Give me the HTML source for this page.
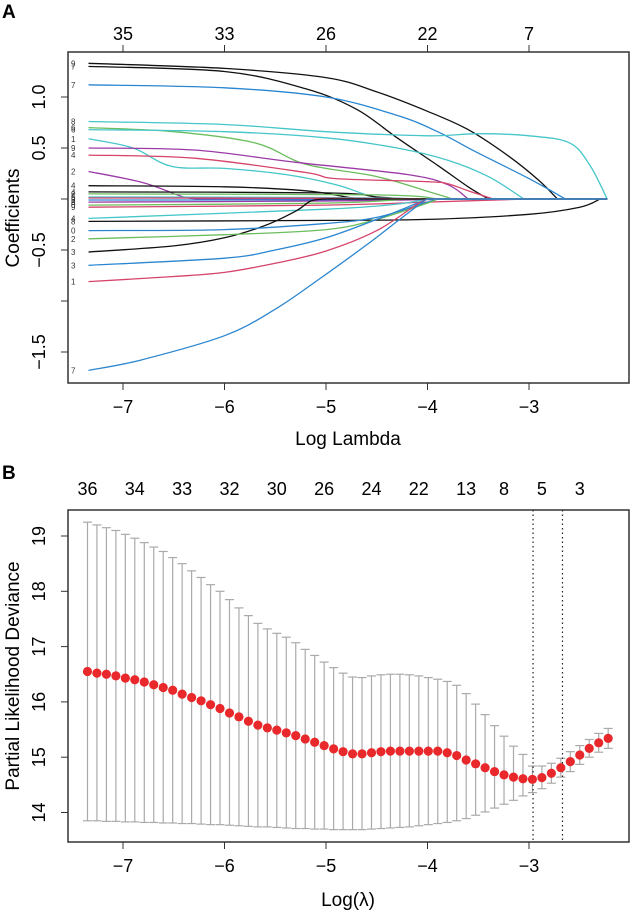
<!DOCTYPE html>
<html><head><meta charset="utf-8"><style>
html,body{margin:0;padding:0;background:#fff;}
svg{display:block;font-family:"Liberation Sans",sans-serif;}
</style></head><body>
<svg id="fig" width="630" height="912" viewBox="0 0 630 912" xmlns="http://www.w3.org/2000/svg">
<text x="2" y="18" font-size="19" font-weight="bold">A</text>
<text x="2" y="479" font-size="19" font-weight="bold">B</text>
<g id="pa"></g>
<g id="pb"></g>
</svg>
<script>
// ---------- Panel A data ----------
const aXTicks = [-7, -6, -5, -4, -3];
const aTopLabels = ["35", "33", "26", "22", "7"];
const aYTicks = [-1.5, -1.0, -0.5, 0, 0.5, 1.0];
const aYTickLabels = ["\u22121.5", "", "\u22120.5", "", "0.5", "1.0"];
const aLamMax = -2.23;
const pathColors = ["#111","#111","#2a86d0","#45c6c9","#6bbd5d","#45c6c9","#45c6c9","#9b3aa6","#d6436b","#9b3aa6","#111","#111","#6bbd5d","#45c6c9","#2a86d0","#d6436b","#9b3aa6","#6bbd5d","#d6436b","#45c6c9","#111","#111","#2a86d0","#6bbd5d","#2a86d0","#d6436b","#2a86d0"];
const pathLabels = ["9","7","7","8","6","6","1","9","4","2","4","4","2","5","3","6","8","0","9","4","8","3","0","2","3","1","7"];
const pathLam = [
 [-7.34,-6,-5,-4.5,-4,-3.6,-3.2,-2.9,-2.72],
 [-7.34,-6,-5.2,-4.7,-4.3,-3.9,-3.6,-3.4],
 [-7.34,-6,-5,-4.3,-3.9,-3.5,-3.0,-2.64],
 [-7.34,-6,-5,-4,-3.5,-3.0,-2.6,-2.4,-2.23],
 [-7.34,-6.5,-5.7,-5.2,-4.5,-3.95,-3.75],
 [-7.34,-6,-5,-4.3,-3.8,-3.4,-3.05],
 [-7.34,-6.9,-6.52,-6.0,-5.4,-4.9,-4.6,-4.4],
 [-7.34,-6.3,-5.3,-4.2,-3.8,-3.6],
 [-7.34,-6.3,-5.2,-4.9,-4.0,-3.8,-3.6,-3.35],
 [-7.34,-6.8,-6.4,-6.2],
 [-7.34,-6,-5.2,-4.8,-4.65],
 [-7.34,-5,-4.5,-4.2],
 [-7.34,-4.5,-3.9],
 [-7.34,-5,-4],
 [-7.34,-5,-4],
 [-7.34,-5,-3.5],
 [-7.34,-5,-3.7],
 [-7.34,-5,-4.2],
 [-7.34,-5,-4,-3],
 [-7.34,-5,-4.3,-4],
 [-7.34,-5,-4,-3,-2.5,-2.3],
 [-7.34,-6.5,-6,-5.6,-5.3,-5.15,-5.0],
 [-7.34,-6,-5,-4.5,-4.0,-3.9],
 [-7.34,-6,-5,-4.5,-4.0,-3.9],
 [-7.34,-6,-5.5,-5,-4.5,-4.1,-4.0],
 [-7.34,-6.5,-6,-5.5,-5,-4.5,-4.1,-4.0],
 [-7.34,-6.83,-6,-5.5,-5.06,-4.6,-4.3,-4.05,-4.0]
];
const pathCoef = [
 [1.33,1.28,1.19,1.05,0.86,0.68,0.42,0.18,0],
 [1.30,1.25,1.08,0.88,0.60,0.33,0.12,0],
 [1.12,1.09,1.0,0.82,0.66,0.45,0.2,0],
 [0.76,0.73,0.66,0.62,0.64,0.62,0.55,0.33,0],
 [0.70,0.66,0.55,0.34,0.22,0.06,0],
 [0.68,0.66,0.6,0.5,0.38,0.22,0],
 [0.59,0.5,0.32,0.3,0.24,0.14,0.04,0],
 [0.50,0.48,0.36,0.24,0.14,0],
 [0.43,0.40,0.26,0.20,0.17,0.15,0.08,0],
 [0.27,0.16,0.02,0],
 [0.13,0.12,0.08,0.02,0],
 [0.07,0.06,0.02,0],
 [0.05,0.04,0],
 [0.02,0.015,0],
 [-0.01,-0.008,0],
 [0.01,0.008,0],
 [-0.03,-0.02,0],
 [-0.06,-0.04,0],
 [-0.08,-0.06,-0.03,0],
 [-0.19,-0.1,-0.05,0],
 [-0.22,-0.21,-0.2,-0.15,-0.08,0],
 [-0.52,-0.46,-0.38,-0.26,-0.12,-0.02,0],
 [-0.31,-0.30,-0.24,-0.18,-0.03,0],
 [-0.39,-0.35,-0.30,-0.20,-0.04,0],
 [-0.65,-0.58,-0.50,-0.38,-0.20,-0.04,0],
 [-0.81,-0.76,-0.72,-0.63,-0.51,-0.31,-0.05,0],
 [-1.68,-1.58,-1.34,-1.08,-0.78,-0.45,-0.22,-0.03,0]
];

// ---------- Panel B data ----------
const bXTicks = [-7, -6, -5, -4, -3];
const bYTicks = [14, 15, 16, 17, 18, 19];
const bLamStart = -7.35, bLamEnd = -2.22;
const bMean = [16.55,16.52,16.50,16.47,16.43,16.40,16.36,16.31,16.26,16.21,16.14,16.08,16.02,15.95,15.88,15.80,15.73,15.65,15.58,15.53,15.49,15.44,15.39,15.33,15.27,15.21,15.15,15.10,15.06,15.06,15.08,15.10,15.11,15.11,15.11,15.11,15.11,15.11,15.08,15.03,14.95,14.88,14.81,14.74,14.68,14.64,14.61,14.60,14.63,14.71,14.81,14.92,15.04,15.16,15.26,15.34];
const bUpper = [19.25,19.20,19.15,19.10,19.03,18.96,18.88,18.80,18.72,18.61,18.50,18.37,18.25,18.12,18.00,17.85,17.70,17.56,17.42,17.32,17.24,17.17,17.07,16.95,16.84,16.72,16.62,16.52,16.45,16.44,16.47,16.49,16.50,16.50,16.49,16.47,16.44,16.41,16.37,16.30,16.15,15.96,15.77,15.57,15.38,15.20,15.05,14.84,14.84,14.89,14.98,15.10,15.21,15.32,15.43,15.52];
const bLower = [13.85,13.85,13.84,13.84,13.83,13.83,13.82,13.82,13.81,13.81,13.80,13.80,13.79,13.78,13.78,13.77,13.76,13.75,13.74,13.74,13.73,13.72,13.71,13.71,13.70,13.70,13.69,13.69,13.69,13.69,13.70,13.71,13.72,13.73,13.74,13.76,13.78,13.80,13.82,13.85,13.89,13.95,14.01,14.08,14.15,14.22,14.30,14.36,14.43,14.53,14.64,14.74,14.87,15.00,15.09,15.16];
const bTopIdx = [0,5,10,15,20,25,30,35,40,44,48,52];
const bTopLabels = ["36","34","33","32","30","26","24","22","13","8","5","3"];
const bVLines = [-2.96, -2.67];

const NS = "http://www.w3.org/2000/svg";
function mk(parent, tag, attrs){const e=document.createElementNS(NS,tag);for(const k in attrs)e.setAttribute(k,attrs[k]);parent.appendChild(e);return e;}

const X0 = 68, X1 = 629;
function xs(l){return 529 + (l + 3) * 101.5;}
function yA(v){return 199 - v * 102;}
function yB(v){return 536 + (19 - v) * 55.3;}

function smooth(pts){
  let d = "M" + pts[0][0].toFixed(1) + "," + pts[0][1].toFixed(1);
  for(let i=0;i<pts.length-1;i++){
    const p0=pts[Math.max(i-1,0)],p1=pts[i],p2=pts[i+1],p3=pts[Math.min(i+2,pts.length-1)];
    const c1=[p1[0]+(p2[0]-p0[0])/6,p1[1]+(p2[1]-p0[1])/6];
    const c2=[p2[0]-(p3[0]-p1[0])/6,p2[1]-(p3[1]-p1[1])/6];
    d+=" C"+c1[0].toFixed(1)+","+c1[1].toFixed(1)+" "+c2[0].toFixed(1)+","+c2[1].toFixed(1)+" "+p2[0].toFixed(1)+","+p2[1].toFixed(1);
  }
  return d;
}

// ---------- Panel A ----------
const pa = document.getElementById("pa");
const aTop = 52, aBot = 383;
const clipA = mk(pa,"clipPath",{id:"clipA"}); mk(clipA,"rect",{x:X0,y:aTop,width:X1-X0,height:aBot-aTop});
const gPaths = mk(pa,"g",{"clip-path":"url(#clipA)"});


for(let i=0;i<pathLam.length;i++){
  const pts = pathLam[i].map((l,j)=>[xs(l), yA(pathCoef[i][j])]);
  let d = smooth(pts);
  const last = pathLam[i][pathLam[i].length-1];
  if(last < aLamMax) d += " L" + xs(aLamMax).toFixed(1) + "," + yA(0).toFixed(1);
  const p = mk(gPaths,"path",{d:d,fill:"none",stroke:pathColors[i],"stroke-width":1.3});
  
  
  const t = mk(pa,"text",{x:71,y:(yA(pathCoef[i][0])+3).toFixed(1),"font-size":8,fill:"#333"});
  t.textContent = pathLabels[i];
  
  
}
const boxA = mk(pa,"rect",{x:X0,y:aTop,width:X1-X0,height:aBot-aTop,fill:"none",stroke:"#333","stroke-width":1.5});


aXTicks.forEach((v,i)=>{
  const x = xs(v);
  mk(pa,"line",{x1:x,x2:x,y1:aBot,y2:aBot+7,stroke:"#333"});
  const t = mk(pa,"text",{x:x,y:aBot+30,"font-size":18,"text-anchor":"middle"});
  t.textContent = "\u2212" + Math.abs(v);
  
  
  mk(pa,"line",{x1:x,x2:x,y1:aTop,y2:aTop-7,stroke:"#333"});
  const t2 = mk(pa,"text",{x:x,y:aTop-12,"font-size":18,"text-anchor":"middle"});
  t2.textContent = aTopLabels[i];
  
  
});
aYTicks.forEach((v,i)=>{
  const y = yA(v);
  mk(pa,"line",{x1:X0,x2:X0-7,y1:y,y2:y,stroke:"#333"});
  if(aYTickLabels[i]){
    const t = mk(pa,"text",{x:0,y:0,"font-size":18,"text-anchor":"middle",transform:"translate(45,"+y+") rotate(-90)"});
    t.textContent = aYTickLabels[i];
    
    
  }
});
{
  const t = mk(pa,"text",{x:348,y:445,"font-size":19,"text-anchor":"middle"}); t.textContent="Log Lambda";
   
  const t2 = mk(pa,"text",{x:0,y:0,"font-size":19,"text-anchor":"middle",transform:"translate(19,218) rotate(-90)"}); t2.textContent="Coefficients";
   
}

// ---------- Panel B ----------
const pb = document.getElementById("pb");
const bTop = 510, bBot = 842;
const n = bMean.length;
function lamAt(i){return bLamStart + (bLamEnd - bLamStart) * i / (n - 1);}
for(let i=0;i<n;i++){
  const x = xs(lamAt(i));
  const bar = mk(pb,"line",{x1:x,x2:x,y1:yB(bUpper[i]),y2:yB(bLower[i]),stroke:"#aaa","stroke-width":1.2});
  
  
  mk(pb,"line",{x1:x-4.5,x2:x+4.5,y1:yB(bUpper[i]),y2:yB(bUpper[i]),stroke:"#aaa","stroke-width":1.2});
  mk(pb,"line",{x1:x-4.5,x2:x+4.5,y1:yB(bLower[i]),y2:yB(bLower[i]),stroke:"#aaa","stroke-width":1.2});
}
bVLines.forEach(v=>{
  const l = mk(pb,"line",{x1:xs(v),x2:xs(v),y1:bTop,y2:bBot,stroke:"#222","stroke-dasharray":"1.5,3","stroke-width":1.2});
  
  
});
for(let i=0;i<n;i++){
  const c = mk(pb,"circle",{cx:xs(lamAt(i)),cy:yB(bMean[i]),r:4.6,fill:"#e8282b"});
  
  
}
const boxB = mk(pb,"rect",{x:X0,y:bTop,width:X1-X0,height:bBot-bTop,fill:"none",stroke:"#333","stroke-width":1.5});


bXTicks.forEach(v=>{
  const x = xs(v);
  mk(pb,"line",{x1:x,x2:x,y1:bBot,y2:bBot+7,stroke:"#333"});
  const t = mk(pb,"text",{x:x,y:bBot+30,"font-size":18,"text-anchor":"middle"});
  t.textContent = "\u2212" + Math.abs(v);
  
  
});
bTopIdx.forEach((idx,i)=>{
  const t = mk(pb,"text",{x:xs(lamAt(idx)),y:bTop-15,"font-size":18,"text-anchor":"middle"});
  t.textContent = bTopLabels[i];
  
  
});
bYTicks.forEach(v=>{
  const y = yB(v);
  mk(pb,"line",{x1:X0,x2:X0-7,y1:y,y2:y,stroke:"#333"});
  const t = mk(pb,"text",{x:0,y:0,"font-size":18,"text-anchor":"middle",transform:"translate(45,"+y+") rotate(-90)"});
  t.textContent = String(v);
  
  
});
{
  const t = mk(pb,"text",{x:348,y:906,"font-size":19,"text-anchor":"middle"}); t.textContent="Log(\u03bb)";
   
  const t2 = mk(pb,"text",{x:0,y:0,"font-size":19,"text-anchor":"middle",transform:"translate(19,676) rotate(-90)"}); t2.textContent="Partial Likelihood Deviance";
   
}
</script>
</body></html>
